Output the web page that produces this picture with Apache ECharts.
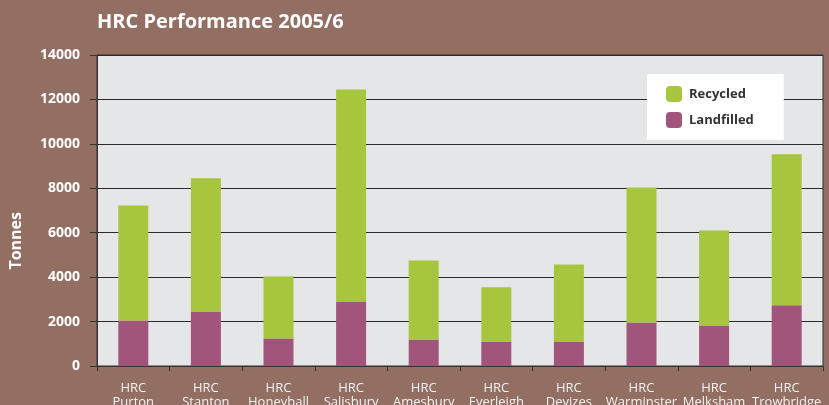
<!DOCTYPE html>
<html>
<head>
<meta charset="utf-8">
<script src="https://cdn.jsdelivr.net/npm/echarts@6/dist/echarts.min.js"></script>
<style>
html,body{margin:0;padding:0;background:#926f62;}
#chart{width:829px;height:405px;}
</style>
</head>
<body>
<div id="chart"></div>
<script>
var sites = ['HRC\nPurton','HRC\nStanton','HRC\nHoneyball','HRC\nSalisbury','HRC\nAmesbury','HRC\nEverleigh','HRC\nDevizes','HRC\nWarminster','HRC\nMelksham','HRC\nTrowbridge'];
var landfilled = [2050, 2450, 1240, 2900, 1190, 1100, 1100, 1960, 1820, 2730];
var recycled = [5180, 6000, 2790, 9550, 3560, 2440, 3470, 6080, 4280, 6800];

var chart = echarts.init(document.getElementById('chart'));
var option = {
    backgroundColor: '#926f62',
    animation: false,
    title: {
        text: 'HRC Performance 2005/6',
        left: 92,
        top: 7,
        textStyle: {color: '#fff', fontFamily: 'Open Sans', fontWeight: 'bold', fontSize: 20}
    },
    legend: {
        orient: 'vertical',
        left: 647,
        top: 74,
        width: 135,
        padding: [12, 30, 12, 19],
        backgroundColor: '#fff',
        itemWidth: 16,
        itemHeight: 16,
        itemGap: 10,
        data: ['Recycled', 'Landfilled'],
        textStyle: {color: '#333', fontFamily: 'Open Sans', fontWeight: 'bold', fontSize: 13, padding: [0, 0, 0, 2]}
    },
    grid: {
        left: 97, right: 6, top: 55, bottom: 39,
        outerBoundsMode: 'none',
        containLabel: false,
        show: true,
        backgroundColor: '#e5e6e8',
        borderColor: '#333',
        borderWidth: 1
    },
    graphic: [{
        type: 'text',
        left: 8,
        top: 212,
        rotation: Math.PI / 2,
        style: {text: 'Tonnes', fill: '#fff', font: 'bold 16px "Open Sans"'}
    }],
    xAxis: {
        type: 'category',
        data: sites,
        axisLine: {lineStyle: {color: '#333'}},
        axisTick: {show: true, length: 5, lineStyle: {color: '#333'}},
        axisLabel: {color: '#f2f2f2', fontFamily: 'Open Sans', fontSize: 13, lineHeight: 14, margin: 15, interval: 0}
    },
    yAxis: {
        type: 'value',
        min: 0,
        max: 14000,
        interval: 2000,
        axisLine: {show: true, lineStyle: {color: '#333'}},
        axisTick: {show: true, length: 7, lineStyle: {color: '#333'}},
        axisLabel: {color: '#fff', fontFamily: 'Open Sans', fontWeight: 'bold', fontSize: 14, margin: 17,
            formatter: function (v) { return String(v); }},
        splitLine: {lineStyle: {color: '#2a2a2a', width: 1}}
    },
    series: [
        {name: 'Landfilled', type: 'bar', stack: 'total', barWidth: 30, data: landfilled, itemStyle: {color: '#a1557b'}},
        {name: 'Recycled', type: 'bar', stack: 'total', barWidth: 30, data: recycled, itemStyle: {color: '#a6c63e'}}
    ]
};
chart.setOption(option, true);
window.onresize = chart.resize;
</script>
</body>
</html>
